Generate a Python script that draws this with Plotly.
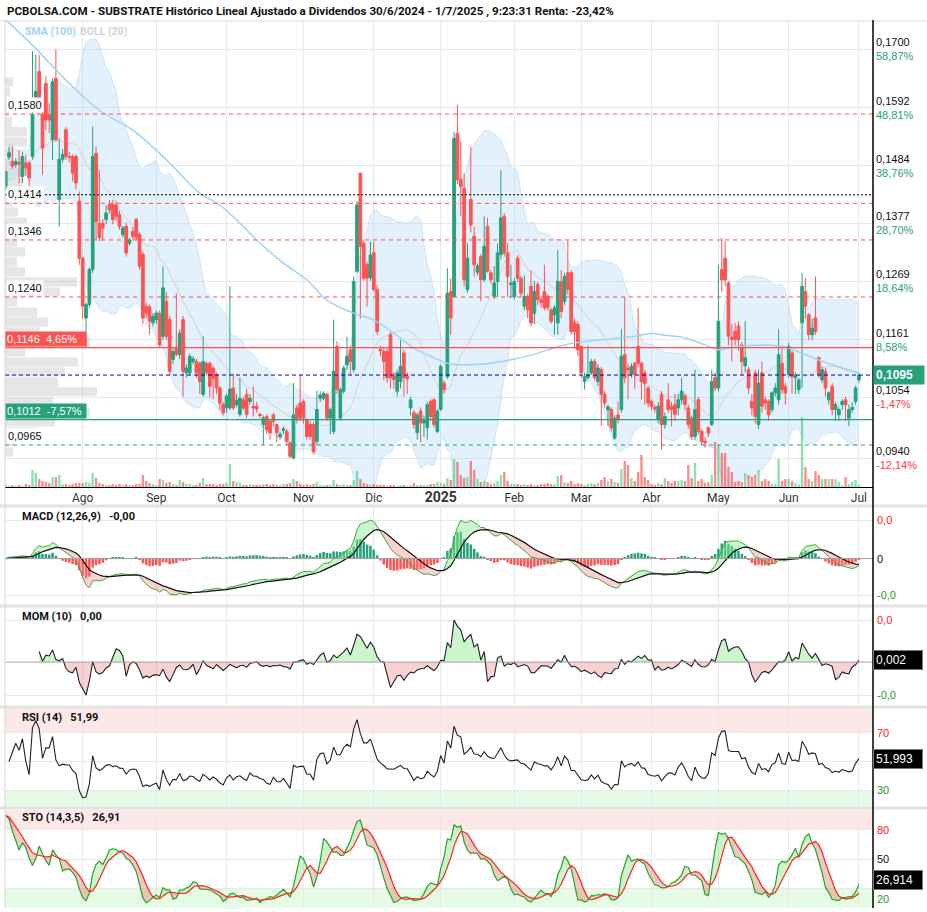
import numpy as np
import pandas as pd
import plotly.graph_objects as go

# ---------------- data (prices in 1/10000 units) ----------------
open_ = [1442,1500,1492,1486,1490,1464,1489,1489,1501,1590,
1659,1579,1637,1579,1532,1646,1421,1496,1551,1501,
1501,1501,1418,1312,1201,1226,1291,1507,1377,1377,
1384,1412,1412,1411,1393,1356,1371,1340,1362,1384,
1356,1319,1222,1222,1192,1198,1210,1167,1232,1198,
1124,1145,1133,1198,1099,1099,1120,1120,1117,1059,
1117,1117,1108,1096,1071,1040,1034,1034,1071,1040,
1022,1049,1059,1046,1037,1037,1022,1003,1018,1009,
1021,1003,980,992,990,969,941,1034,1043,1046,
1012,1003,1003,972,1052,1052,1059,1015,990,1148,
1015,1065,1114,1142,1105,1288,1470,1340,1300,1276,
1322,1254,1143,1139,1139,1170,1093,1065,1083,1136,
1093,1034,1025,988,1028,1006,997,1046,1049,990,
1031,1080,1092,1250,1241,1544,1459,1442,1254,1421,
1353,1286,1315,1272,1371,1285,1241,1269,1319,1390,
1322,1263,1241,1312,1275,1223,1241,1260,1210,1263,
1235,1250,1241,1216,1207,1192,1269,1232,1285,1285,
1192,1189,1148,1083,1090,1099,1120,1083,1105,1059,
1030,1031,978,1021,1031,1133,1108,1096,1117,1148,
1117,1099,1071,1046,1035,1012,1059,1003,1049,1037,
1040,1034,1049,1056,1034,1015,981,1049,990,972,
997,1003,1090,1071,1291,1312,1266,1165,1176,1186,
1151,1112,1105,1046,1099,1003,1099,1049,1046,1031,
1062,1049,1117,1074,1096,1136,1090,1068,1192,1250,
1207,1170,1201,1127,1086,1102,1049,1074,1031,1021,
1040,1049,1015,1031,1046,1086]

close_ = [1473,1508,1483,1492,1487,1501,1480,1461,1579,1622,
1606,1517,1569,1569,1640,1532,1496,1505,1501,1500,
1470,1452,1312,1223,1226,1291,1501,1380,1350,1368,
1396,1402,1384,1390,1371,1368,1322,1346,1353,1350,
1297,1201,1210,1195,1204,1210,1151,1257,1167,1102,
1139,1133,1173,1102,1108,1130,1125,1099,1083,1120,
1099,1074,1089,1071,1043,1025,1056,1069,1034,1048,
1052,1034,1022,1052,1034,1032,1020,1015,994,988,
1009,988,985,995,972,944,1021,1012,1015,1015,
981,981,953,1031,1058,1061,1015,1031,1102,1068,
1068,1108,1130,1120,1269,1411,1334,1275,1275,1318,
1254,1176,1140,1120,1090,1090,1087,1099,1111,1090,
1088,1049,1003,1021,1006,1010,1040,1018,1003,1028,
1111,1068,1247,1201,1535,1458,1445,1272,1312,1374,
1300,1298,1272,1334,1288,1272,1266,1322,1387,1322,
1278,1266,1269,1275,1247,1241,1216,1192,1250,1235,
1230,1220,1220,1195,1220,1269,1213,1278,1254,1176,
1176,1142,1099,1093,1096,1120,1090,1108,1059,1043,
1036,997,1015,1012,1130,1090,1105,1111,1096,1117,
1083,1080,1043,1037,1032,1037,1003,1018,1031,1031,
1022,1049,1065,1040,1003,981,1031,990,972,969,
987,1083,1071,1195,1272,1272,1167,1161,1161,1161,
1120,1127,1071,1034,1018,1080,1037,1043,1021,1062,
1071,1133,1068,1062,1148,1092,1095,1086,1260,1223,
1170,1182,1176,1096,1105,1071,1062,1031,1040,1031,
1046,1040,1031,1035,1071,1095]

high_ = [1475,1518,1520,1498,1513,1510,1505,1493,1697,1690,
1690,1590,1650,1600,1646,1700,1535,1515,1556,1510,
1505,1505,1436,1315,1230,1295,1557,1520,1476,1385,
1410,1420,1420,1418,1400,1372,1378,1350,1370,1387,
1360,1325,1230,1226,1210,1215,1215,1297,1250,1205,
1145,1247,1180,1205,1115,1135,1130,1125,1120,1167,
1120,1120,1112,1100,1075,1045,1060,1260,1098,1060,
1090,1055,1070,1060,1074,1045,1025,1020,1022,1012,
1025,1005,990,1000,995,972,1080,1040,1096,1050,
1015,1010,1008,1066,1065,1065,1062,1035,1198,1158,
1072,1112,1166,1150,1278,1418,1470,1345,1305,1343,
1343,1262,1150,1145,1145,1175,1100,1105,1160,1142,
1100,1055,1030,1025,1035,1020,1045,1050,1052,1032,
1115,1085,1294,1275,1547,1597,1529,1470,1340,1520,
1371,1303,1320,1390,1387,1290,1297,1340,1476,1396,
1340,1300,1275,1318,1280,1280,1245,1290,1270,1268,
1240,1300,1245,1220,1225,1327,1290,1285,1345,1290,
1200,1195,1150,1100,1150,1125,1125,1115,1110,1065,
1040,1035,1020,1045,1180,1240,1115,1117,1120,1220,
1120,1105,1075,1050,1040,1045,1065,1025,1080,1045,
1060,1060,1090,1060,1040,1020,1105,1055,995,980,
1000,1105,1100,1300,1350,1343,1270,1190,1192,1195,
1156,1195,1110,1060,1105,1105,1120,1055,1050,1065,
1080,1180,1150,1080,1155,1140,1100,1090,1285,1275,
1210,1200,1278,1130,1110,1108,1065,1080,1045,1035,
1050,1055,1040,1045,1075,1100]

low_ = [1440,1495,1478,1480,1452,1452,1465,1442,1495,1585,
1588,1467,1550,1545,1495,1528,1371,1490,1495,1490,
1455,1440,1300,1200,1145,1220,1285,1346,1343,1345,
1375,1395,1375,1380,1365,1350,1315,1335,1345,1345,
1290,1190,1200,1170,1185,1190,1145,1160,1160,1095,
1115,1130,1125,1055,1090,1095,1115,1090,1060,1055,
1095,1053,1050,1060,1030,1020,1025,1030,1030,1035,
1018,1030,1015,1040,1018,1025,1015,965,985,975,
1000,970,975,985,965,940,938,1005,1010,1005,
975,975,948,965,1045,1048,1010,985,985,1060,
1010,1060,1105,1095,1100,1285,1200,1270,1222,1270,
1250,1170,1130,1085,1080,1070,1070,1055,1070,1055,
1060,1020,995,975,970,980,975,1010,998,987,
1028,1060,1088,1170,1238,1450,1390,1260,1248,1360,
1278,1280,1232,1268,1285,1265,1236,1240,1310,1315,
1240,1240,1235,1268,1240,1215,1200,1185,1190,1225,
1220,1215,1215,1190,1170,1170,1200,1225,1245,1170,
1145,1130,1090,1068,1085,1095,1085,1075,1000,1035,
1000,990,975,1005,1025,1080,1050,1090,1070,1110,
1050,1040,1035,1030,1025,1005,956,995,1025,1000,
1010,1020,1040,1030,995,975,975,985,965,960,
980,1000,1065,1065,1250,1260,1150,1120,1150,1140,
1095,1100,1060,1020,1005,995,1025,1030,1010,1025,
1055,1040,1060,1040,1090,1060,1060,1060,1071,1200,
1160,1160,1170,1090,1080,1055,1040,1020,1010,1010,
1030,1010,1000,1025,1040,1080]

# relative volume (bar heights)
volume = [2,1,2,1,2,1,3,2,17,14,
8,6,5,4,10,10,12,3,3,2,
3,4,4,4,5,4,14,9,4,3,
2,2,3,2,3,2,3,2,2,3,
3,12,6,4,3,2,8,7,4,5,
3,2,7,5,3,3,2,2,4,9,
3,3,3,2,3,3,4,23,6,5,
4,2,2,3,2,2,2,3,3,2,
3,2,2,3,3,4,8,6,3,2,
3,2,3,5,2,2,2,2,7,3,
2,3,2,2,7,16,8,4,3,2,
3,2,2,2,1,2,2,1,2,2,
1,2,4,2,2,2,2,3,3,5,
4,3,9,7,28,25,12,9,10,26,
17,8,5,6,5,3,4,6,12,15,
6,3,3,3,2,3,2,3,2,2,
3,3,4,3,3,11,12,5,4,6,
3,4,3,2,3,4,3,4,7,10,
6,8,5,4,18,26,22,9,6,15,
32,10,7,3,2,4,3,9,6,4,
6,6,7,6,22,9,24,6,8,4,
5,12,45,42,34,34,20,15,5,6,
5,14,12,10,12,17,6,8,6,3,
3,28,6,8,8,6,4,3,70,20,
8,6,16,12,8,8,8,8,8,5,
2,10,3,5,7,2]

# SMA(100) (index, value)
sma100_idx = [0,8,18,28,38,48,58,64,70,75,83,90,96,104,110,116,122,128,132,137,
              147,157,167,177,187,193,197,203,209,213,216,221,227,233,237,243,249,255]
sma100_val = [0.1755,0.1708,0.1643,0.1587,0.1550,0.1495,0.1433,0.1411,0.1377,0.1346,
              0.1303,0.1272,0.1234,0.1210,0.1197,0.1173,0.1145,0.1127,0.1117,0.1114,
              0.1119,0.1132,0.1151,0.1160,0.1166,0.1172,0.1169,0.1164,0.1151,0.1142,
              0.1145,0.1149,0.1151,0.1147,0.1138,0.1123,0.1110,0.1099]

# volume-by-price profile (left)
profile_price = [0.1640,0.1621,0.1602,0.1584,0.1565,0.1547,0.1528,0.1509,0.1491,0.1472,
                 0.1454,0.1435,0.1417,0.1398,0.1379,0.1361,0.1342,0.1324,0.1305,0.1287,
                 0.1268,0.1249,0.1231,0.1212,0.1194,0.1175,0.1156,0.1138,0.1119,0.1101,
                 0.1082,0.1064,0.1045,0.1026,0.1008,0.0989,0.0971,0.0952]
profile_vol = [8,5,5,4,7,22,22,9,9,18,
               18,13,7,13,22,13,12,20,12,20,
               72,55,12,32,43,35,85,20,73,60,
               53,92,48,85,50,33,10,8]

month_idx = [0,23,45,66,89,110,130,152,172,193,213,234,255]
month_lbl = ["Jul","Ago","Sep","Oct","Nov","Dic","2025","Feb","Mar","Abr","May","Jun","Jul"]

price_ticks = [0.0940,0.1054,0.1161,0.1269,0.1377,0.1484,0.1592,0.1700]
price_tick_txt = ["0,0940","0,1054","0,1161","0,1269","0,1377","0,1484","0,1592","0,1700"]
price_tick_pct = ["-12,14%","-1,47%","8,58%","18,64%","28,70%","38,76%","48,81%","58,87%"]

resist_levels = [0.1580,0.1414,0.1346,0.1240]
resist_txt = ["0,1580","0,1414","0,1346","0,1240"]
support_levels = [0.0965]
support_txt = ["0,0965"]
ref_level = 0.1430
upper_level, upper_txt = 0.1146, "0,1146  4,65%"
lower_level, lower_txt = 0.1012, "0,1012  -7,57%"
last_price, last_txt = 0.1095, "0,1095"

title_txt = "PCBOLSA.COM - SUBSTRATE Histórico Lineal Ajustado a Dividendos 30/6/2024 - 1/7/2025 , 9:23:31 Renta: -23,42%"
panel_titles = ["MACD (12,26,9)", "MOM (10)", "RSI (14)", "STO (14,3,5)"]
panel_values = ["-0,00", "0,00", "51,99", "26,91"]
box_txt = {"mom": ("0,002", 0.002), "rsi": ("51,993", 51.993), "sto": ("26,914", 26.914)}

# ---------------- computations ----------------
N = len(close_)
idx = np.arange(N)
o = np.array(open_) / 1e4
c = np.array(close_) / 1e4
h = np.maximum.reduce([np.array(high_) / 1e4, o, c])
l = np.minimum.reduce([np.array(low_) / 1e4, o, c])
cs = pd.Series(c)

mid = cs.rolling(20, min_periods=1).mean()
sd = cs.rolling(20, min_periods=1).std(ddof=0).fillna(0)
bb_up = mid + 2 * sd
bb_lo = mid - 2 * sd

ema12 = cs.ewm(span=12, adjust=False).mean()
ema26 = cs.ewm(span=26, adjust=False).mean()
macd = ema12 - ema26
sig = macd.ewm(span=9, adjust=False).mean()
hist = macd - sig

mom = (cs - cs.shift(10))

dlt = cs.diff().fillna(0)
ag = dlt.clip(lower=0).ewm(alpha=1 / 14, adjust=False).mean()
al = (-dlt.clip(upper=0)).ewm(alpha=1 / 14, adjust=False).mean()
rsi = 100 - 100 / (1 + ag / al.replace(0, np.nan))
rsi = rsi.fillna(50)

ll = pd.Series(l).rolling(14, min_periods=1).min()
hh = pd.Series(h).rolling(14, min_periods=1).max()
raw = (cs - ll) / (hh - ll) * 100
stk = raw.rolling(3, min_periods=1).mean()
std_ = stk.rolling(5, min_periods=1).mean()

# ---------------- geometry helpers ----------------
W, H = 927, 912
ML, MR, MT, MB = 5, 54, 20, 4
PH = H - MT - MB
PW = W - ML - MR


def py(ypx):
    return (H - MB - ypx) / PH


def dom(top, bot):
    return [py(bot), py(top)]


XR = [-0.21, 259.2]
PX_PER_IDX = PW / (XR[1] - XR[0])

GREEN = "#26a17b"
RED = "#ff5252"
FN = "Roboto, Liberation Sans, sans-serif"
FR = "Liberation Sans, Arial, sans-serif"

fig = go.Figure()

# Bollinger band + middle (base main subplot)
fig.add_trace(go.Scatter(x=idx, y=bb_up, mode="lines", line=dict(color="rgba(160,205,240,0.45)", width=1),
                         hoverinfo="skip", showlegend=False, xaxis="x", yaxis="y"))
fig.add_trace(go.Scatter(x=idx, y=bb_lo, mode="lines", line=dict(color="rgba(160,205,240,0.45)", width=1),
                         fill="tonexty", fillcolor="rgba(173,216,247,0.35)",
                         hoverinfo="skip", showlegend=False, xaxis="x", yaxis="y"))
fig.add_trace(go.Scatter(x=idx, y=mid, mode="lines", line=dict(color="#d9d9d9", width=1.2),
                         hoverinfo="skip", showlegend=False, xaxis="x", yaxis="y"))

# volume profile
pmax = max(profile_vol)
prof_len = [v / pmax * (92 / PX_PER_IDX) for v in profile_vol]
fig.add_trace(go.Bar(orientation="h", x=prof_len, y=profile_price, base=XR[0], width=0.00172,
                     marker=dict(color="rgba(185,185,185,0.36)", line=dict(width=0)),
                     hoverinfo="skip", showlegend=False, xaxis="x", yaxis="y"))

# volume bars
vcol = ["rgba(40,200,110,0.55)" if c[i] >= o[i] else "rgba(255,60,60,0.6)" for i in range(N)]
fig.add_trace(go.Bar(x=idx, y=volume, width=0.7, marker=dict(color=vcol, line=dict(width=0)),
                     hoverinfo="skip", showlegend=False, xaxis="x", yaxis="y2"))

# candles
fig.add_trace(go.Candlestick(x=idx, open=o, high=h, low=l, close=c, whiskerwidth=0,
                             increasing=dict(line=dict(color=GREEN, width=1), fillcolor=GREEN),
                             decreasing=dict(line=dict(color=RED, width=1), fillcolor=RED),
                             hoverinfo="skip", showlegend=False, xaxis="x", yaxis="y3"))
fig.add_trace(go.Scatter(x=sma100_idx, y=sma100_val, mode="lines", line=dict(color="#9fd2f6", width=1.5, shape="spline"),
                         hoverinfo="skip", showlegend=False, xaxis="x", yaxis="y3"))


def two_fill(x, a, b, cpos, cneg, xa, ya):
    a = np.asarray(a, float)
    b = np.asarray(b, float)
    up = np.maximum(a, b)
    dn = np.minimum(a, b)
    for arr, col in ((up, cpos), (dn, cneg)):
        fig.add_trace(go.Scatter(x=x, y=b, mode="lines", line=dict(width=0, color="rgba(0,0,0,0)"),
                                 hoverinfo="skip", showlegend=False, xaxis=xa, yaxis=ya))
        fig.add_trace(go.Scatter(x=x, y=arr, mode="lines", line=dict(width=0, color="rgba(0,0,0,0)"),
                                 fill="tonexty", fillcolor=col,
                                 hoverinfo="skip", showlegend=False, xaxis=xa, yaxis=ya))


# MACD
hcol = [GREEN if v >= 0 else RED for v in hist]
fig.add_trace(go.Bar(x=idx, y=hist, width=0.75, marker=dict(color=hcol, line=dict(width=0)),
                     hoverinfo="skip", showlegend=False, xaxis="x2", yaxis="y4"))
two_fill(idx, macd, sig, "rgba(140,235,140,0.45)", "rgba(240,140,140,0.40)", "x2", "y4")
fig.add_trace(go.Scatter(x=idx, y=macd, mode="lines", line=dict(color="#3aa83a", width=1),
                         hoverinfo="skip", showlegend=False, xaxis="x2", yaxis="y4"))
fig.add_trace(go.Scatter(x=idx, y=sig, mode="lines", line=dict(color="#111", width=1.2),
                         hoverinfo="skip", showlegend=False, xaxis="x2", yaxis="y4"))

# MOM
mi = idx[10:]
mv = mom.values[10:]
two_fill(mi, mv, np.zeros(len(mv)), "rgba(140,235,140,0.45)", "rgba(240,140,140,0.40)", "x3", "y5")
fig.add_trace(go.Scatter(x=mi, y=mv, mode="lines", line=dict(color="#222", width=1.1),
                         hoverinfo="skip", showlegend=False, xaxis="x3", yaxis="y5"))

# RSI
fig.add_trace(go.Scatter(x=idx[1:], y=rsi.values[1:], mode="lines", line=dict(color="#222", width=1.1),
                         hoverinfo="skip", showlegend=False, xaxis="x4", yaxis="y6"))

# STO
two_fill(idx, stk, std_, "rgba(140,235,140,0.45)", "rgba(215,140,110,0.45)", "x5", "y7")
fig.add_trace(go.Scatter(x=idx, y=stk, mode="lines", line=dict(color="#2e9e2e", width=1.2),
                         hoverinfo="skip", showlegend=False, xaxis="x5", yaxis="y7"))
fig.add_trace(go.Scatter(x=idx, y=std_, mode="lines", line=dict(color="#ff2020", width=1.2),
                         hoverinfo="skip", showlegend=False, xaxis="x5", yaxis="y7"))


# ---------------- axes ----------------
def grid_range(vals, top, ghi, glo, bot):
    hi = float(np.nanmax(vals))
    lo = float(np.nanmin(vals))
    s = (glo - ghi) / (hi - lo)
    return [lo - (bot - glo) / s, hi + (ghi - top) / s], hi, lo


macd_rng, macd_hi, macd_lo = grid_range(np.r_[macd.values, sig.values], 507, 520, 595, 605)
mom_rng, mom_hi, mom_lo = grid_range(mv, 607, 620, 695, 705)

ticktext = [("<b style='font-size:14px'>%s</b>" % t) if t == "2025" else t for t in month_lbl]
xbase = dict(range=XR, tickvals=month_idx, showgrid=True, gridcolor="#e8e8e8", gridwidth=1,
             zeroline=False, ticks="", fixedrange=True, automargin=False)
main_y_rng = [0.0887, 0.17547]
ybase = dict(showticklabels=False, zeroline=False, showgrid=True, gridcolor="#e8e8e8", fixedrange=True,
             ticks="", automargin=False)

layout = dict(
    width=W, height=H, margin=dict(l=ML, r=MR, t=MT, b=MB, autoexpand=False),
    paper_bgcolor="white", plot_bgcolor="white", showlegend=False,
    barmode="overlay", boxgap=0.2, boxgroupgap=0,
    font=dict(family=FR, size=11, color="#222"),
    xaxis=dict(xbase, anchor="y", ticktext=ticktext, showticklabels=True,
               tickfont=dict(family=FN, size=12, color="#333"),
               showline=True, linecolor="#000", linewidth=1, rangeslider=dict(visible=False)),
    xaxis2=dict(xbase, anchor="y4", matches="x", showticklabels=False),
    xaxis3=dict(xbase, anchor="y5", matches="x", showticklabels=False),
    xaxis4=dict(xbase, anchor="y6", matches="x", showticklabels=False),
    xaxis5=dict(xbase, anchor="y7", matches="x", showticklabels=False),
    yaxis=dict(ybase, domain=dom(20, 487), range=main_y_rng, tickvals=price_ticks),
    yaxis2=dict(overlaying="y", range=[0, 467], visible=False, fixedrange=True),
    yaxis3=dict(overlaying="y", range=main_y_rng, visible=False, fixedrange=True),
    yaxis4=dict(ybase, domain=dom(507, 605), range=macd_rng, tickvals=[macd_lo, macd_hi]),
    yaxis5=dict(ybase, domain=dom(607, 705), range=mom_rng, tickvals=[mom_lo, mom_hi]),
    yaxis6=dict(ybase, domain=dom(708, 806), range=[18.8, 87.5], tickvals=[30, 50, 70]),
    yaxis7=dict(ybase, domain=dom(810, 908), range=[0, 100], tickvals=[20, 50, 80]),
)
fig.update_layout(**layout)

# ---------------- shapes ----------------
shapes = []
shapes.append(dict(type="rect", xref="paper", x0=0, x1=1, yref="y6", y0=70, y1=87.5,
                   fillcolor="#fde8e8", line=dict(width=0), layer="below"))
shapes.append(dict(type="rect", xref="paper", x0=0, x1=1, yref="y6", y0=18.8, y1=30,
                   fillcolor="#e5fbe5", line=dict(width=0), layer="below"))
shapes.append(dict(type="rect", xref="paper", x0=0, x1=1, yref="y7", y0=80, y1=100,
                   fillcolor="#fde8e8", line=dict(width=0), layer="below"))
shapes.append(dict(type="rect", xref="paper", x0=0, x1=1, yref="y7", y0=0, y1=20,
                   fillcolor="#e5fbe5", line=dict(width=0), layer="below"))
shapes.append(dict(type="line", xref="paper", x0=0, x1=1, yref="y4", y0=0, y1=0,
                   line=dict(color="#a0a0a0", width=1)))
shapes.append(dict(type="line", xref="paper", x0=0, x1=1, yref="y5", y0=0, y1=0,
                   line=dict(color="#a0a0a0", width=1)))
for lv in resist_levels:
    shapes.append(dict(type="line", xref="paper", x0=0, x1=1, yref="y", y0=lv, y1=lv,
                       line=dict(color="#ff4d4d", width=1, dash="4px,4px")))
for lv in support_levels:
    shapes.append(dict(type="line", xref="paper", x0=0, x1=1, yref="y", y0=lv, y1=lv,
                       line=dict(color=GREEN, width=1, dash="4px,4px")))
shapes.append(dict(type="line", xref="paper", x0=0, x1=1, yref="y", y0=ref_level, y1=ref_level,
                   line=dict(color="#000", width=1, dash="2px,2px")))
shapes.append(dict(type="line", xref="paper", x0=0, x1=1, yref="y", y0=upper_level, y1=upper_level,
                   line=dict(color="#ff4d4d", width=1.3)))
shapes.append(dict(type="line", xref="paper", x0=0, x1=1, yref="y", y0=lower_level, y1=lower_level,
                   line=dict(color=GREEN, width=1.3)))
shapes.append(dict(type="line", xref="paper", x0=0, x1=1, yref="y", y0=last_price, y1=last_price,
                   line=dict(color="#0000c8", width=1, dash="4px,3px")))
for ypx in (506, 606, 707, 808):
    shapes.append(dict(type="line", xref="paper", x0=-ML / PW, x1=(W - ML) / PW, yref="paper",
                       y0=py(ypx), y1=py(ypx), line=dict(color="#e2e2e2", width=3)))
shapes.append(dict(type="line", xref="paper", x0=-ML / PW, x1=(W - ML) / PW, yref="paper",
                   y0=py(21), y1=py(21), line=dict(color="#e6e6e6", width=1.5)))
shapes.append(dict(type="line", xref="paper", x0=1, x1=1, yref="paper", y0=0, y1=py(20),
                   line=dict(color="#000", width=1.5)))
shapes.append(dict(type="line", xref="paper", x0=0, x1=0, yref="paper", y0=0, y1=py(20),
                   line=dict(color="#d4d4d4", width=1)))
fig.update_layout(shapes=shapes)

# ---------------- annotations ----------------
ann = []
ann.append(dict(text="<b>%s</b>" % title_txt, xref="paper", yref="paper", x=0, y=py(11),
                xanchor="left", yanchor="middle", showarrow=False,
                font=dict(family=FN, size=11.6, color="#111")))
ann.append(dict(text="<b>SMA (100)</b>", xref="paper", yref="paper", x=(23 - ML) / PW, y=py(32),
                xanchor="left", yanchor="middle", showarrow=False, font=dict(family=FN, size=10.5, color="#9fd2f6")))
ann.append(dict(text="<b>BOLL (20)</b>", xref="paper", yref="paper", x=(78 - ML) / PW, y=py(32),
                xanchor="left", yanchor="middle", showarrow=False, font=dict(family=FN, size=10.5, color="#d3d3d3")))

for v, t, p in zip(price_ticks, price_tick_txt, price_tick_pct):
    col = GREEN if not p.startswith("-") else "#ff4040"
    ann.append(dict(text="%s<br><span style='color:%s'>%s</span>" % (t, col, p), xref="paper", yref="y",
                    x=1, y=v, xanchor="left", yanchor="middle", xshift=1, align="left", showarrow=False,
                    font=dict(family=FR, size=11, color="#111")))

for v, t in zip(resist_levels + support_levels, resist_txt + support_txt):
    ann.append(dict(text=t, xref="paper", yref="y", x=0, y=v, xanchor="left", yanchor="bottom",
                    xshift=1, yshift=1, showarrow=False, bgcolor="white", borderpad=1,
                    font=dict(family=FR, size=11, color="#111")))
ann.append(dict(text=upper_txt.replace("  ", "\u00a0\u00a0"), xref="paper", yref="y", x=0, y=upper_level,
                xanchor="left", yanchor="bottom", yshift=1, showarrow=False, bgcolor=RED, borderpad=1,
                width=78, align="left", font=dict(family=FR, size=11, color="white")))
ann.append(dict(text=lower_txt.replace("  ", "\u00a0\u00a0"), xref="paper", yref="y", x=0, y=lower_level,
                xanchor="left", yanchor="bottom", yshift=1, showarrow=False, bgcolor=GREEN, borderpad=1,
                width=78, align="left", font=dict(family=FR, size=11, color="white")))
ann.append(dict(text="<b>%s</b>" % last_txt, xref="paper", yref="y", x=1, y=last_price,
                xanchor="left", yanchor="middle", showarrow=False, bgcolor=GREEN, borderpad=2,
                width=46, align="left", font=dict(family=FR, size=12, color="white")))

for t, v, ypx in zip(panel_titles, panel_values, (516, 616, 717, 817)):
    ann.append(dict(text="<b>%s\u00a0\u00a0\u00a0%s</b>" % (t, v), xref="paper", yref="paper",
                    x=(20 - ML) / PW, y=py(ypx), xanchor="left", yanchor="middle", showarrow=False,
                    font=dict(family=FN, size=11, color="#111")))


def rlabel(text, yref, y, color, yanchor="middle", yshift=0):
    ann.append(dict(text=text, xref="paper", yref=yref, x=1, y=y, xanchor="left", yanchor=yanchor,
                    xshift=2, yshift=yshift, showarrow=False, font=dict(family=FR, size=11, color=color)))


rlabel("0,0", "y4", macd_hi, "#ff2020")
rlabel("0", "y4", 0, "#111")
rlabel("-0,0", "y4", macd_lo, "#1e9a1e")
rlabel("0,0", "y5", mom_hi, "#ff2020")
rlabel("-0,0", "y5", mom_lo, "#1e9a1e")
rlabel("70", "y6", 70, "#ff2020")
rlabel("30", "y6", 30, "#1e9a1e")
rlabel("80", "y7", 80, "#ff2020")
rlabel("50", "y7", 50, "#111")
rlabel("20", "y7", 20, "#1e9a1e", yanchor="top", yshift=-3)

for key, yref, ysh in (("mom", "y5", 0), ("rsi", "y6", 0), ("sto", "y7", 2)):
    t, v = box_txt[key]
    ann.append(dict(text=t, xref="paper", yref=yref, x=1, y=v, xanchor="left", yanchor="middle",
                    yshift=ysh, showarrow=False, bgcolor="#000", bordercolor="#777", borderwidth=1, borderpad=2,
                    width=44, align="left", font=dict(family=FR, size=12, color="white")))

fig.update_layout(annotations=ann)

fig.write_html("out.html", config={"displayModeBar": False},
               post_script="document.body.style.margin='0px';document.body.style.overflow='hidden';")
